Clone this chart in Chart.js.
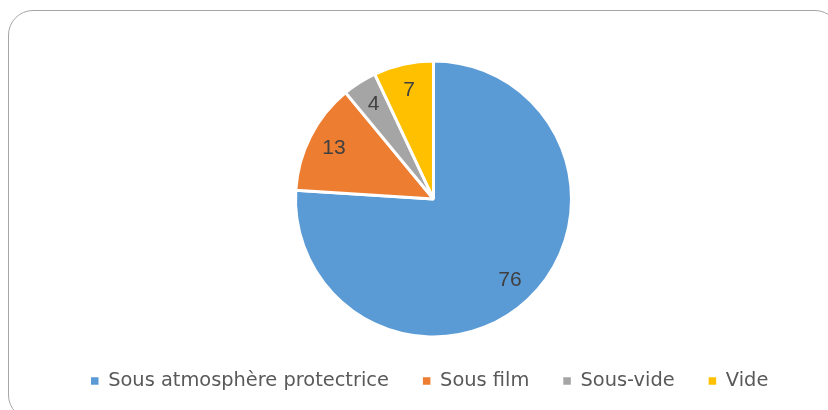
<!DOCTYPE html>
<html>
<head>
<meta charset="utf-8">
<script src="https://cdn.jsdelivr.net/npm/chart.js@4"></script>
<style>
  html, body { margin: 0; padding: 0; background: #ffffff; overflow: hidden; }
  #wrap { position: relative; width: 828px; height: 410px; overflow: hidden; }
  #frame { position: absolute; left: 8px; top: 10px; width: 832px; height: 410px;
           border: 1.5px solid #a6a6a6; border-radius: 25px; box-sizing: border-box; }
  #c { position: absolute; left: 0; top: 0; }
</style>
</head>
<body>
<div id="wrap">
  <div id="frame"></div>
  <canvas id="c" width="828" height="410"></canvas>
</div>
<script>
const categories = ["Sous atmosphère protectrice", "Sous film", "Sous-vide", "Vide"];
const values = [76, 13, 4, 7];
const colors = ["#5B9BD5", "#ED7D31", "#A5A5A5", "#FFC000"];

const LABEL_FONT = "'Liberation Sans', Arial, sans-serif";
const LEGEND_FONT = "'DejaVu Sans', sans-serif";

const sliceLabels = {
  id: 'sliceLabels',
  afterDatasetsDraw(chart) {
    const ctx = chart.ctx;
    const meta = chart.getDatasetMeta(0);
    ctx.save();
    ctx.fillStyle = '#404040';
    ctx.font = '21px ' + LABEL_FONT;
    ctx.textAlign = 'center';
    ctx.textBaseline = 'middle';
    meta.data.forEach((arc, i) => {
      const p = arc.getProps(['x', 'y', 'startAngle', 'endAngle', 'outerRadius'], true);
      const mid = (p.startAngle + p.endAngle) / 2;
      const r = p.outerRadius * 0.81;
      ctx.fillText(String(chart.data.datasets[0].data[i]), p.x + Math.cos(mid) * r, p.y + Math.sin(mid) * r);
    });
    ctx.restore();
  }
};

new Chart(document.getElementById('c'), {
  type: 'pie',
  data: {
    labels: categories,
    datasets: [{
      data: values,
      backgroundColor: colors,
      borderColor: '#ffffff',
      borderWidth: 3,
      radius: 138
    }]
  },
  options: {
    responsive: false,
    animation: false,
    layout: { padding: { left: 57, right: 18, top: 60.6, bottom: 9.3 } },
    plugins: {
      tooltip: { enabled: false },
      legend: {
        position: 'bottom',
        align: 'start',
        labels: {
          boxWidth: 7.5,
          boxHeight: 7.5,
          padding: 34,
          color: '#595959',
          font: { family: LEGEND_FONT, size: 19.4 },
          generateLabels(chart) {
            const base = Chart.overrides.pie.plugins.legend.labels.generateLabels(chart);
            return base.map(it => Object.assign(it, { strokeStyle: it.fillStyle, lineWidth: 0 }));
          }
        }
      }
    }
  },
  plugins: [sliceLabels]
});
</script>
</body>
</html>
